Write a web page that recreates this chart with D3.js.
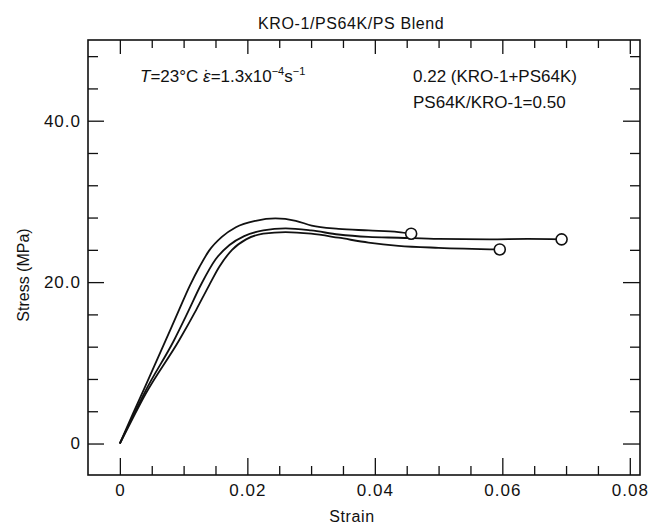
<!DOCTYPE html>
<html>
<head>
<meta charset="utf-8">
<script src="https://cdn.jsdelivr.net/npm/d3@7"></script>
<style>
  body { margin: 0; background: #fff; }
  text { font-family: "Liberation Sans", Arial, sans-serif; fill: #111; }
</style>
</head>
<body>
<svg id="chart" width="651" height="525"></svg>
<script>
// stress-strain curves: [strain, stress MPa]
const curveTop = [
  [0, 0], [0.002, 3.6], [0.004, 7.1], [0.0072, 12.8], [0.0092, 16.4],
  [0.011, 19.6], [0.0125, 21.9], [0.014, 23.9], [0.016, 25.6], [0.0182, 26.8],
  [0.0213, 27.6], [0.0244, 27.9], [0.0276, 27.6], [0.0301, 27.0], [0.0343, 26.6],
  [0.039, 26.4], [0.0437, 26.2], [0.0457, 26.0]
];
const curveMid = [
  [0, 0], [0.002, 3.3], [0.004, 6.5], [0.0085, 12.8], [0.0105, 16.0],
  [0.0128, 19.8], [0.015, 22.8], [0.0172, 24.6], [0.0195, 25.7], [0.0225, 26.4],
  [0.026, 26.65], [0.03, 26.4], [0.0343, 25.9], [0.039, 25.6], [0.0437, 25.5],
  [0.05, 25.35], [0.058, 25.3], [0.064, 25.35], [0.0693, 25.3]
];
const curveLow = [
  [0, 0], [0.002, 3.1], [0.004, 6.1], [0.0093, 12.8], [0.012, 16.6],
  [0.014, 19.6], [0.0156, 21.9], [0.0176, 24.0], [0.0198, 25.3], [0.0225, 26.0],
  [0.026, 26.2], [0.03, 26.0], [0.0343, 25.5], [0.039, 24.9], [0.0437, 24.5],
  [0.05, 24.25], [0.0596, 24.05]
];

const strainMajor = [0, 0.02, 0.04, 0.06, 0.08];
const strainLabels = ['0', '0.02', '0.04', '0.06', '0.08'];
const stressMajor = [0, 20, 40];
const stressLabels = ['0', '20.0', '40.0'];

const svg = d3.select('#chart');
const frame = { left: 88, right: 640, top: 40, bottom: 475 };

const x = d3.scaleLinear().domain([-0.005, 0.0816]).range([frame.left, frame.right]);
const y = d3.scaleLinear().domain([-3.9, 50]).range([frame.bottom, frame.top]);

const strainMinor = d3.range(0.005, 0.08, 0.005).filter(v => !strainMajor.some(m => Math.abs(m - v) < 1e-9));
const stressMinor = d3.range(4, 50, 4).filter(v => !stressMajor.includes(v));

// ticks on all four sides, pointing inward
function drawAxis(axisFn, scale, pos, values, size, labels) {
  const g = svg.append('g')
    .attr('transform', pos)
    .call(axisFn(scale).tickValues(values).tickSize(-size).tickPadding(9)
      .tickFormat((d, i) => labels ? labels[i] : ''));
  g.select('.domain').remove();
  g.selectAll('.tick line').attr('stroke', '#111').attr('stroke-width', 1.3);
  g.selectAll('.tick text')
    .style('font-size', '17px')
    .style('letter-spacing', '1px')
    .attr('fill', '#111');
  return g;
}

drawAxis(d3.axisBottom, x, `translate(0,${frame.bottom})`, strainMajor, 17, strainLabels);
drawAxis(d3.axisBottom, x, `translate(0,${frame.bottom})`, strainMinor, 9);
drawAxis(d3.axisTop, x, `translate(0,${frame.top})`, strainMajor, 14);
drawAxis(d3.axisTop, x, `translate(0,${frame.top})`, strainMinor, 8);
drawAxis(d3.axisLeft, y, `translate(${frame.left},0)`, stressMajor, 16, stressLabels)
  .selectAll('.tick text').attr('x', -7);
drawAxis(d3.axisLeft, y, `translate(${frame.left},0)`, stressMinor, 10);
drawAxis(d3.axisRight, y, `translate(${frame.right},0)`, stressMajor, 17);
drawAxis(d3.axisRight, y, `translate(${frame.right},0)`, stressMinor, 10);

svg.append('rect')
  .attr('x', frame.left).attr('y', frame.top)
  .attr('width', frame.right - frame.left).attr('height', frame.bottom - frame.top)
  .attr('fill', 'none').attr('stroke', '#111').attr('stroke-width', 1.6);

// curves
const line = d3.line().x(d => x(d[0])).y(d => y(d[1])).curve(d3.curveMonotoneX);
const curves = [curveTop, curveMid, curveLow];

svg.append('g').selectAll('path')
  .data(curves)
  .join('path')
  .attr('d', line)
  .attr('fill', 'none')
  .attr('stroke', '#111')
  .attr('stroke-width', 1.8);

svg.append('g').selectAll('circle')
  .data(curves.map(c => c[c.length - 1]))
  .join('circle')
  .attr('cx', d => x(d[0]))
  .attr('cy', d => y(d[1]))
  .attr('r', 5.5)
  .attr('fill', '#fff')
  .attr('stroke', '#111')
  .attr('stroke-width', 1.6);

// titles and notes
svg.append('text')
  .attr('x', 258).attr('y', 29)
  .style('font-size', '16px')
  .style('letter-spacing', '0.6px')
  .text('KRO-1/PS64K/PS  Blend');

svg.append('text')
  .attr('x', 352).attr('y', 522)
  .attr('text-anchor', 'middle')
  .style('font-size', '16px')
  .style('letter-spacing', '0.6px')
  .text('Strain');

svg.append('text')
  .attr('transform', 'translate(29,275) rotate(-90)')
  .attr('text-anchor', 'middle')
  .style('font-size', '16px')
  .text('Stress (MPa)');

const note = svg.append('text')
  .attr('x', 140).attr('y', 82)
  .style('font-size', '17px');
note.append('tspan').style('font-style', 'italic').text('T');
note.append('tspan').text('=23°C   ');
note.append('tspan').style('font-style', 'italic').text('\u03b5');
note.append('tspan').attr('dx', -6.5).text('\u02d9');
note.append('tspan').attr('dx', 1).text('=1.3x10');
note.append('tspan').attr('dy', -7).style('font-size', '11px').text('\u22124');
note.append('tspan').attr('dy', 7).text('s');
note.append('tspan').attr('dy', -7).style('font-size', '11px').text('\u22121');

svg.append('text')
  .attr('x', 413).attr('y', 82)
  .style('font-size', '17px')
  .text('0.22 (KRO-1+PS64K)');

svg.append('text')
  .attr('x', 413).attr('y', 108)
  .style('font-size', '17px')
  .text('PS64K/KRO-1=0.50');
</script>
</body>
</html>
